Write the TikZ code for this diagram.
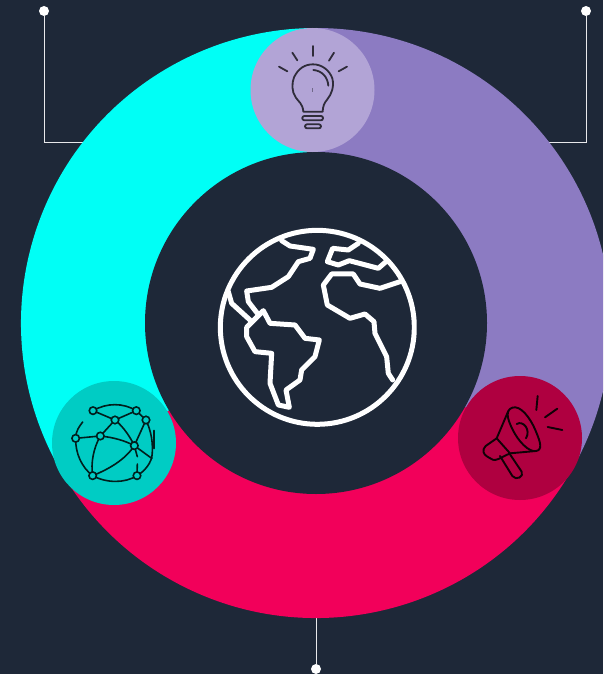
\documentclass[tikz,border=0pt]{standalone}
\definecolor{bgdark}{HTML}{1E2838}
\definecolor{ringcyan}{HTML}{00FFF6}
\definecolor{ringpurple}{HTML}{8C7BC2}
\definecolor{ringpink}{HTML}{F2005A}
\definecolor{bulbdisc}{HTML}{B2A4D6}
\definecolor{tealdisc}{HTML}{00CCC4}
\definecolor{reddisc}{HTML}{AF0040}
\definecolor{icondark}{HTML}{2F2C3A}
\tikzset{
  disc/.style={circle,inner sep=0pt,minimum size=#1},
  dotnode/.style={circle,fill=white,inner sep=0pt,minimum size=10pt},
  leader/.style={draw=white!90!bgdark,line width=.9pt},
  globeline/.style={draw=white,line width=5pt,line join=round,line cap=round},
  iconline/.style={draw=icondark,line width=1.8pt,line join=round,line cap=round},
  netline/.style={draw=black!85!tealdisc,line width=1.6pt,line cap=round},
  netnode/.style={circle,draw=black!85!tealdisc,fill=tealdisc,line width=1.6pt,inner sep=0pt,minimum size=7.5pt},
  megaline/.style={draw=black!90!reddisc,line width=1.9pt,line join=round,line cap=round},
}
\begin{document}
\begin{tikzpicture}[x=1pt,y=-1pt]
\useasboundingbox (0,0) rectangle (603,674);
\fill[bgdark] (0,0) rectangle (603,674);
% leaders
\node[dotnode] (dotL) at (44,11) {};
\node[dotnode] (dotR) at (586,11) {};
\node[dotnode] (dotB) at (316,669) {};
\coordinate (ringL) at (90,142);
\coordinate (ringR) at (540,142);
\coordinate (ringB) at (316,612);
\draw[leader] (dotL) |- (ringL);
\draw[leader] (dotR) |- (ringR);
\draw[leader] (dotB) -- (ringB);
% ring
\begin{scope}
\clip (0,0) rectangle (603,674);
\fill[ringpink] (316,323) -- ++(29.4:295) arc[start angle=29.4,end angle=149.3,radius=295] -- cycle;
\fill[ringcyan] (316,323) -- ++(149.3:295) arc[start angle=149.3,end angle=270,radius=295] -- cycle;
\fill[ringpurple] (316,323) -- ++(270:295) arc[start angle=270,end angle=389.4,radius=295] -- cycle;
\end{scope}
\node[disc=342pt,fill=bgdark] (hub) at (316,323) {};
\node[disc=124pt,fill=bulbdisc] (bulb) at (312.5,90) {};
\node[disc=124pt,fill=tealdisc] (net) at (114,443) {};
\node[disc=124pt,fill=reddisc] (mega) at (520,438) {};
% globe
\begin{scope}
\clip (200,210) rectangle (416.7,440);
\begin{scope}[shift={(200,210)},x=0.3333pt,y=-0.3333pt]
\draw[globeline] (352,352) circle[radius=291];
\draw[globeline] (245,92) -- (270,108) -- (340,118) -- (330,145) -- (295,155) -- (265,200) -- (215,232) -- (140,243) -- (145,275) -- (172,310);
\draw[globeline] (85,245) -- (95,280) -- (150,330);
\draw[globeline] (140,352) -- (190,302) -- (210,340) -- (285,345) -- (315,385) -- (358,390) -- (345,440) -- (305,480) -- (300,510) -- (258,540) -- (268,592) -- (235,585) -- (210,520) -- (215,430) -- (165,425) -- (140,380) -- cycle;
\draw[globeline] (475,100) -- (445,120) -- (398,115) -- (382,155) -- (415,165) -- (448,152) -- (535,175) -- (558,155);
\draw[globeline] (600,215) -- (540,235) -- (480,222) -- (460,192) -- (395,192) -- (370,225) -- (382,285) -- (450,325) -- (495,312) -- (522,335) -- (525,370) -- (560,440) -- (565,490) -- (578,510);
\end{scope}
\end{scope}
% bulb icon
\begin{scope}[shift={(250,20)},x=0.3333pt,y=-0.3333pt]
\draw[iconline] (160,275) .. controls (158,250) and (145,245) .. (137,232) .. controls (125,215) and (125,190) .. (132,172) .. controls (145,145) and (165,133) .. (189,133) .. controls (215,133) and (238,150) .. (247,175) .. controls (253,200) and (245,222) .. (232,238) .. controls (222,250) and (219,258) .. (218,275) -- cycle;
\draw[iconline] (190,150) .. controls (215,152) and (233,170) .. (235,197);
\draw[iconline] (188,78) -- (188,108);
\draw[iconline] (127,98) -- (142,121);
\draw[iconline] (87,140) -- (112,154);
\draw[iconline] (252,98) -- (237,122);
\draw[iconline] (291,140) -- (266,154);
\draw[iconline,rounded corners=2pt] (157,288) rectangle (219,301);
\draw[iconline,rounded corners=2pt] (165,313) rectangle (213,325);
\draw[icondark!50!bulbdisc,line width=.6pt] (187,205) -- (187,215);
\end{scope}
% network icon
\begin{scope}[shift={(50,380)},x=0.3333pt,y=-0.3333pt]
\coordinate (nA) at (129,92);
\coordinate (nB) at (259,92);
\coordinate (nC) at (195,120);
\coordinate (nD) at (288,120);
\coordinate (nE) at (77,175);
\coordinate (nF) at (151,168);
\coordinate (nG) at (253,197);
\coordinate (nH) at (128,287);
\coordinate (nI) at (261,287);
\coordinate (nJ) at (305,235);
\draw[netline] (nA) .. controls (170,68) and (220,68) .. (nB);
\draw[netline] (nA) -- (nC) -- (nB);
\draw[netline] (nC) -- (nF);
\draw[netline] (nC) .. controls (220,140) and (240,170) .. (nG);
\draw[netline] (nB) -- (nD) -- (nG);
\draw[netline] (nE) -- (nF);
\draw[netline] (nF) .. controls (190,172) and (225,182) .. (nG);
\draw[netline] (nF) .. controls (130,205) and (122,250) .. (nH);
\draw[netline] (nG) .. controls (225,240) and (175,268) .. (nH);
\draw[netline] (nH) .. controls (170,310) and (225,310) .. (nI);
\draw[netline] (nE) .. controls (76,220) and (95,262) .. (nH);
\draw[netline] (nE) .. controls (78,150) and (88,140) .. (98,126);
\draw[netline] (nG) -- (nJ);
\draw[netline] (nD) .. controls (302,150) and (312,190) .. (nJ);
\draw[netline] (nI) .. controls (282,275) and (298,255) .. (nJ);
\draw[netline] (nG) -- (262,230);
\draw[netline] (nI) -- (262,252);
\draw[netline,line width=2pt] (312,152) -- (312,205);
\foreach \p in {A,B,C,D,E,F,G,H,I} \node[netnode] at (n\p) {};
\end{scope}
% megaphone icon
\begin{scope}[shift={(455,375)},x=0.3333pt,y=-0.3333pt]
\draw[megaline] (172,98) .. controls (195,90) and (225,125) .. (243,170) .. controls (258,205) and (262,225) .. (243,228) .. controls (222,232) and (190,200) .. (172,162) .. controls (155,128) and (152,105) .. (172,98) -- cycle;
\draw[megaline] (160,108) -- (125,190) -- (92,213) .. controls (80,225) and (85,238) .. (97,245) -- (113,254) .. controls (122,258) and (130,252) .. (165,235);
\draw[megaline] (125,190) -- (165,235) -- (243,228);
\draw[megaline] (135,243) -- (172,303) .. controls (183,318) and (208,305) .. (200,290) -- (165,238);
\draw[megaline] (185,147) .. controls (205,135) and (228,165) .. (213,190);
\draw[megaline] (248,63) -- (244,105);
\draw[megaline] (307,101) -- (270,127);
\draw[megaline] (278,156) -- (322,165);
\end{scope}
\end{tikzpicture}
\end{document}
